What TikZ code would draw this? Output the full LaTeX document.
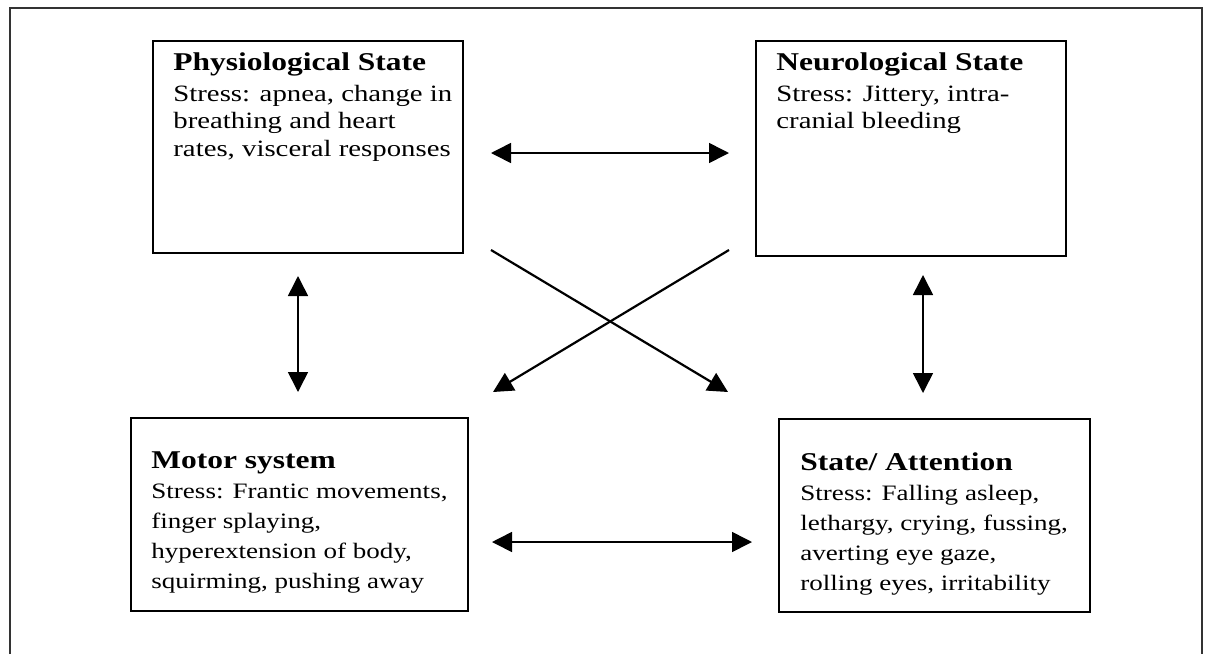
\documentclass[tikz,border=0pt]{standalone}
\usepackage{fontspec}
\setmainfont{Liberation Serif}[FakeStretch=1.23]
\usetikzlibrary{arrows.meta,positioning,calc}
\tikzset{
  stressbox/.style={draw, line width=1pt, inner sep=0pt, anchor=north west},
  boxtext/.style={anchor=north west, align=left, inner sep=0pt},
  tighttext/.style={boxtext, font=\fontsize{11.7}{13.65}\selectfont},
  loosetext/.style={boxtext, font=\fontsize{11}{15}\selectfont},
  twoway/.style={{Triangle[length=10pt,width=10pt]}-{Triangle[length=10pt,width=10pt]}, line width=0.8pt},
  oneway/.style={-{Triangle[length=10pt,width=10pt]}, line width=1.1pt}
}
\newcommand{\boxhead}[1]{{\fontsize{12.8}{14}\selectfont\bfseries #1}}

\begin{document}
\begin{tikzpicture}[x=0.5pt, y=-0.5pt]
  \useasboundingbox (0,0) rectangle (1205,654);
  % outer frame
  \draw[line width=0.7pt, black!80] (10,654) -- (10,8) -- (1202,8) -- (1202,654);

  % the four boxes
  \node[stressbox, minimum width=155pt, minimum height=106pt] (phys) at (152,40) {};
  \node[stressbox, minimum width=155pt, minimum height=107.5pt] (neuro) at (755,40) {};
  \node[stressbox, minimum width=168.5pt, minimum height=96.5pt] (motor) at (130,417) {};
  \node[stressbox, minimum width=155.5pt, minimum height=96.5pt] (state) at (778,418) {};

  \node[tighttext] (physT) at ($(phys.north west)+(21,12)$)
    {\boxhead{Physiological State}\\[2pt] Stress: apnea, change in\\ breathing and heart\\ rates, visceral responses};
  \node[tighttext] (neuroT) at ($(neuro.north west)+(21,12)$)
    {\boxhead{Neurological State}\\[2pt] Stress: Jittery, intra-\\ cranial bleeding};
  \node[loosetext] (motorT) at ($(motor.north west)+(21,34)$)
    {\boxhead{Motor system}\\ Stress: Frantic movements,\\ finger splaying,\\ hyperextension of body,\\ squirming, pushing away};
  \node[loosetext] (stateT) at ($(state.north west)+(22,34)$)
    {\boxhead{State/ Attention}\\ Stress: Falling asleep,\\ lethargy, crying, fussing,\\ averting eye gaze,\\ rolling eyes, irritability};

  % connectors
  \draw[twoway] ($(phys.north east)+(27,113)$) -- ($(neuro.north west)+(-26,113)$);
  \draw[twoway] ($(motor.south east)+(23,-70)$) -- ($(state.south west)+(-26,-71)$);
  \draw[twoway] ($(phys.south west)+(146,22)$) -- ($(motor.north west)+(168,-25)$);
  \draw[twoway] ($(neuro.south west)+(168,18)$) -- ($(state.north west)+(145,-25)$);
  \draw[oneway] ($(phys.south east)+(27,-4)$) -- ($(state.north west)+(-50,-26)$);
  \draw[oneway] ($(neuro.south west)+(-26,-7)$) -- ($(motor.north east)+(24,-25)$);
\end{tikzpicture}
\end{document}
